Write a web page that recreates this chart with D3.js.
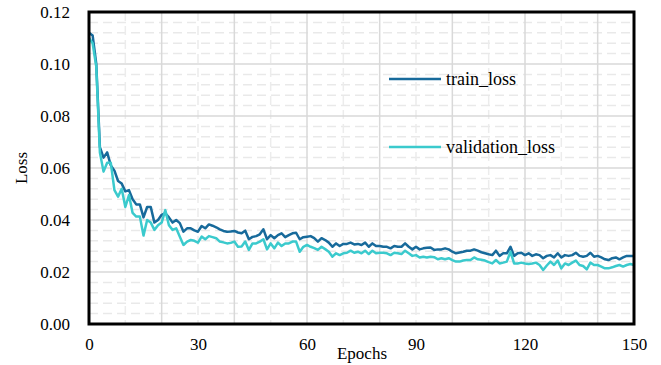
<!DOCTYPE html>
<html>
<head>
<meta charset="utf-8">
<script src="https://cdn.jsdelivr.net/npm/d3@7"></script>
<style>
  body { margin: 0; background: #fff; }
  svg { display: block; font-family: "Liberation Serif", "Times New Roman", Times, serif; }
</style>
</head>
<body>
<div id="chart"></div>
<script>
// loss per epoch (epochs 0..150)
var trainLoss = [
  0.112, 0.111, 0.100, 0.068, 0.064, 0.066, 0.061, 0.059, 0.055, 0.054,
  0.051, 0.0515, 0.048, 0.046, 0.046, 0.041, 0.045, 0.045, 0.039, 0.040,
  0.042, 0.0426, 0.041, 0.039, 0.040, 0.0388, 0.0355, 0.0368, 0.0368, 0.036,
  0.0355, 0.0377, 0.0368, 0.0383, 0.0378, 0.0372, 0.0364, 0.0358, 0.0355, 0.0356,
  0.0358, 0.0352, 0.0349, 0.0359, 0.0326, 0.0335, 0.0338, 0.0345, 0.0364, 0.0326,
  0.0342, 0.033, 0.0342, 0.0349, 0.0334, 0.0342, 0.0349, 0.0351, 0.0326, 0.0334,
  0.0336, 0.0338, 0.033, 0.0317, 0.033, 0.0323, 0.0313, 0.0297, 0.031, 0.030,
  0.0308, 0.0308, 0.0313, 0.0306, 0.0308, 0.0304, 0.0313, 0.0297, 0.031, 0.030,
  0.030, 0.0297, 0.0297, 0.0291, 0.030, 0.0297, 0.0297, 0.031, 0.0297, 0.0287,
  0.0297, 0.0287, 0.0291, 0.0293, 0.0294, 0.0285, 0.0287, 0.0287, 0.0291, 0.0287,
  0.0278, 0.0272, 0.0275, 0.0278, 0.0282, 0.0282, 0.0287, 0.0282, 0.0276, 0.0272,
  0.0268, 0.0265, 0.0282, 0.0262, 0.0272, 0.0272, 0.0297, 0.0262, 0.0272, 0.0274,
  0.0265, 0.0272, 0.0262, 0.0268, 0.0265, 0.0253, 0.0262, 0.0265, 0.0256, 0.0272,
  0.0256, 0.0265, 0.0262, 0.0265, 0.0274, 0.0262, 0.0259, 0.0262, 0.0274, 0.0259,
  0.0262, 0.0256, 0.0249, 0.0246, 0.0253, 0.0256, 0.0249, 0.0256, 0.0262, 0.0262,
  0.0262
];
var validationLoss = [
  0.110, 0.108, 0.099, 0.066, 0.0586, 0.062, 0.062, 0.0515, 0.049, 0.052,
  0.045, 0.0496, 0.0427, 0.0413, 0.0413, 0.034, 0.040, 0.039, 0.0362, 0.038,
  0.039, 0.0438, 0.038, 0.0362, 0.0368, 0.0336, 0.0304, 0.0317, 0.0323, 0.032,
  0.0313, 0.0336, 0.0326, 0.0338, 0.0334, 0.033, 0.0317, 0.0314, 0.031, 0.0312,
  0.0317, 0.0297, 0.0298, 0.0317, 0.0285, 0.031, 0.031, 0.0317, 0.0326, 0.0287,
  0.031, 0.0291, 0.0313, 0.030, 0.031, 0.031, 0.0317, 0.0317, 0.0278, 0.0297,
  0.0304, 0.0297, 0.0292, 0.0285, 0.0297, 0.0288, 0.0278, 0.0259, 0.0272, 0.0265,
  0.0272, 0.0274, 0.0282, 0.0274, 0.0278, 0.0272, 0.0282, 0.0269, 0.0282, 0.0272,
  0.0274, 0.0274, 0.0272, 0.0265, 0.0274, 0.0272, 0.0269, 0.0282, 0.0272, 0.0262,
  0.0265, 0.0256, 0.0259, 0.0256, 0.0259, 0.0257, 0.0249, 0.0253, 0.0249, 0.0253,
  0.0246, 0.024, 0.024, 0.0244, 0.0246, 0.0246, 0.0256, 0.0249, 0.0247, 0.0244,
  0.0238, 0.0233, 0.0246, 0.0233, 0.0236, 0.024, 0.0278, 0.0233, 0.0233, 0.0236,
  0.0233, 0.0231, 0.0233, 0.0236, 0.0227, 0.0208, 0.0225, 0.024, 0.0227, 0.0244,
  0.0214, 0.0233, 0.0227, 0.0236, 0.0244, 0.0227, 0.0223, 0.021, 0.0236, 0.0227,
  0.0227, 0.0221, 0.0214, 0.0214, 0.0218, 0.0223, 0.0227, 0.0221, 0.0227, 0.0231,
  0.0227
];
var seriesNames = ["train_loss", "validation_loss"];
var xTicks = [0, 30, 60, 90, 120, 150];
var yTicks = [0, 0.02, 0.04, 0.06, 0.08, 0.10, 0.12];

var W = 661, H = 365;
var pLeft = 89, pRight = 634, pTop = 12, pBottom = 324;
var colors = ["#176a9b", "#3bcacd"];
var serif = "'Liberation Serif', 'Times New Roman', Times, serif";

var svg = d3.select("#chart").append("svg").attr("width", W).attr("height", H);

var x = d3.scaleLinear().domain([0, 150]).range([pLeft, pRight]);
var y = d3.scaleLinear().domain([0, 0.12]).range([pBottom, pTop]);

// minor dashed grid
svg.append("g").selectAll("line")
  .data(d3.range(1, 30).filter(function (k) { return k % 5 !== 0; }).map(function (k) { return k * 0.004; }))
  .enter().append("line")
    .attr("x1", pLeft).attr("x2", pRight)
    .attr("y1", function (d) { return y(d); }).attr("y2", function (d) { return y(d); })
    .attr("stroke", "#e9e9e9").attr("stroke-width", 1.5).attr("stroke-dasharray", "9,5");
svg.append("g").selectAll("line")
  .data(d3.range(10, 151, 20))
  .enter().append("line")
    .attr("y1", pTop).attr("y2", pBottom)
    .attr("x1", function (d) { return x(d); }).attr("x2", function (d) { return x(d); })
    .attr("stroke", "#ececec").attr("stroke-width", 1.5).attr("stroke-dasharray", "9,5");

// major grid
svg.append("g").selectAll("line")
  .data(yTicks.slice(1, -1))
  .enter().append("line")
    .attr("x1", pLeft).attr("x2", pRight)
    .attr("y1", function (d) { return y(d); }).attr("y2", function (d) { return y(d); })
    .attr("stroke", "#d9d9d9").attr("stroke-width", 1.5);
svg.append("g").selectAll("line")
  .data(d3.range(20, 150, 20))
  .enter().append("line")
    .attr("y1", pTop).attr("y2", pBottom)
    .attr("x1", function (d) { return x(d); }).attr("x2", function (d) { return x(d); })
    .attr("stroke", "#d9d9d9").attr("stroke-width", 1.5);

// lines
var line = d3.line()
  .x(function (d, i) { return x(i); })
  .y(function (d) { return y(d); });

[trainLoss, validationLoss].forEach(function (s, k) {
  svg.append("path")
    .datum(s)
    .attr("d", line)
    .attr("fill", "none")
    .attr("stroke", colors[k])
    .attr("stroke-width", 2.5)
    .attr("stroke-linejoin", "round");
});

// frame
svg.append("rect")
  .attr("x", pLeft).attr("y", pTop)
  .attr("width", pRight - pLeft).attr("height", pBottom - pTop)
  .attr("fill", "none").attr("stroke", "#000").attr("stroke-width", 3);

// axes
var yAxis = svg.append("g")
  .attr("transform", "translate(" + pLeft + ",0)")
  .call(d3.axisLeft(y).tickValues(yTicks).tickFormat(d3.format(".2f")).tickSize(0).tickPadding(19));
var xAxis = svg.append("g")
  .attr("transform", "translate(0," + pBottom + ")")
  .call(d3.axisBottom(x).tickValues(xTicks).tickSize(0).tickPadding(14));
[yAxis, xAxis].forEach(function (a) {
  a.attr("font-family", null).attr("font-size", null);
  a.select(".domain").remove();
  a.selectAll("text")
    .style("font-family", serif)
    .style("font-size", "17px")
    .attr("fill", "#000");
});

// axis titles
svg.append("text")
  .attr("x", 362).attr("y", 359)
  .attr("text-anchor", "middle")
  .style("font-family", serif)
  .style("font-size", "17px")
  .text("Epochs");
svg.append("text")
  .attr("transform", "translate(27,168) rotate(-90)")
  .attr("text-anchor", "middle")
  .style("font-family", serif)
  .style("font-size", "17px")
  .text("Loss");

// legend
var legendY = [79, 147];
seriesNames.forEach(function (n, k) {
  svg.append("line")
    .attr("x1", 389).attr("x2", 441)
    .attr("y1", legendY[k]).attr("y2", legendY[k])
    .attr("stroke", colors[k]).attr("stroke-width", 2.5);
  svg.append("text")
    .attr("x", 446).attr("y", legendY[k])
    .attr("dy", "0.35em")
    .style("font-family", serif)
    .style("font-size", "18px")
    .text(n);
});
</script>
</body>
</html>
